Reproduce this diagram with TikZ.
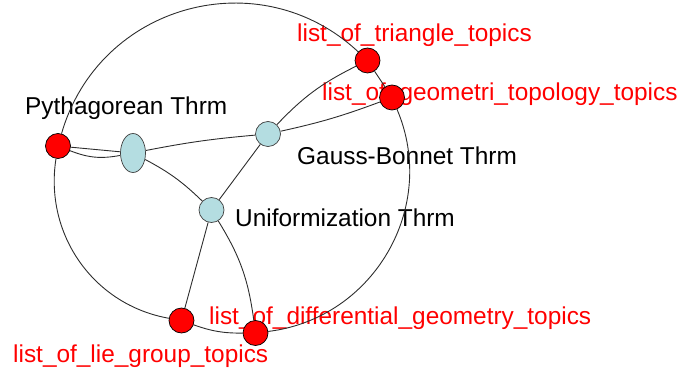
\documentclass[tikz,border=0pt]{standalone}
\usepackage{fontspec}
\setmainfont{Liberation Sans}
\usetikzlibrary{shapes.geometric}
\pgfdeclarelayer{bg}
\pgfsetlayers{bg,main}
\definecolor{nodeblue}{RGB}{180,221,225}
\definecolor{edgegray}{RGB}{45,45,45}
\tikzset{
  topic/.style={circle,draw=black,fill=red,line width=0.7pt,minimum size=25pt,inner sep=0pt},
  thrm/.style={circle,draw=black!75,fill=nodeblue,line width=0.7pt,minimum size=25pt,inner sep=0pt},
  thrmell/.style={ellipse,draw=black!75,fill=nodeblue,line width=0.7pt,minimum width=25pt,minimum height=39pt,inner sep=0pt},
  edge/.style={draw=edgegray,line width=0.9pt},
  blacklabel/.style={anchor=base west,inner sep=0pt,text=black,font=\fontsize{24.4}{28}\selectfont},
  redlabel/.style={anchor=base west,inner sep=0pt,text=red,font=\fontsize{24.4}{28}\selectfont},
}
\begin{document}
\begin{tikzpicture}[x=1pt,y=1pt]
\useasboundingbox (0,0) rectangle (684,-371);
% nodes
\node[topic] (P) at (58,-146) {};
\node[thrmell] (E) at (133,-153) {};
\node[thrm] (G) at (268,-134) {};
\node[thrm] (U) at (211.5,-210) {};
\node[topic] (T) at (367.5,-60.5) {};
\node[topic] (GT) at (392,-97.5) {};
\node[topic] (L) at (181.5,-320.5) {};
\node[topic] (D) at (255.5,-333) {};
\begin{pgfonlayer}{bg}
% labels
\node[blacklabel] (lP) at (25,-115) {Pythagorean Thrm};
\node[blacklabel] (lG) at (297,-165) {Gauss-Bonnet Thrm};
\node[blacklabel] (lU) at (235,-226) {Uniformization Thrm};
\node[redlabel] (lT) at (297,-42) {list\_of\_triangle\_topics};
\node[redlabel] (lGT) at (322,-101) {list\_of\_geometri\_topology\_topics};
\node[redlabel] (lD) at (209,-324) {list\_of\_differential\_geometry\_topics};
\node[redlabel] (lL) at (13,-362) {list\_of\_lie\_group\_topics};
% outer arcs
\draw[edge] (P) to[out=74,in=137,looseness=1.12] (T);
\draw[edge] (T) -- (GT);
\draw[edge] (GT) to[out=-67,in=7,looseness=1.06] (D);
\draw[edge] (L) to[bend right=10] (D);
\draw[edge] (P) to[out=-99,in=170,looseness=1.0] (L);
% inner edges
\draw[edge] (P) -- (E);
\draw[edge] (P) to[bend right=16] (E);
\draw[edge] (E) to[bend left=3] (G);
\draw[edge] (E) to[bend left=8] (U);
\draw[edge] (G) to[bend left=10] (T);
\draw[edge] (G) to[bend right=4] (GT);
\draw[edge] (G) -- (U);
\draw[edge] (U) -- (L);
\draw[edge] (U) to[bend left=12] (D);
\end{pgfonlayer}
\end{tikzpicture}
\end{document}
